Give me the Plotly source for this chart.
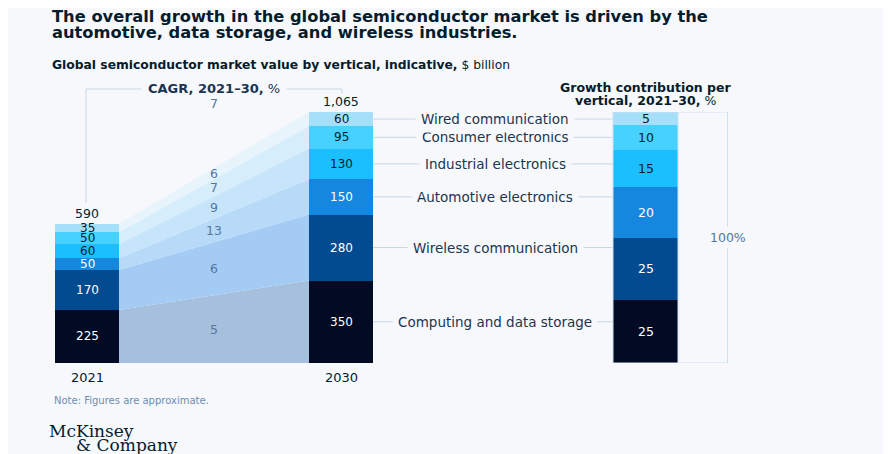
import plotly.graph_objects as go

# Data
years = ["2021", "2030"]
verticals = ["Computing and data storage", "Wireless communication", "Automotive electronics",
             "Industrial electronics", "Consumer electronics", "Wired communication"]
value_2021 = [225, 170, 50, 60, 50, 35]
value_2030 = [350, 280, 150, 130, 95, 60]
cagr = [5, 6, 13, 9, 7, 6]
total_cagr = 7
growth_share = [25, 25, 20, 15, 10, 5]

# Styles
bar_colors = ["#030A24", "#034B91", "#1587DF", "#1CBFFE", "#46D1FE", "#A5DFF9"]
area_colors = ["#A6BFDD", "#A4CBF3", "#B6DAF8", "#C6E5FA", "#D6EDFB", "#E7F4FC"]
label_colors = ["#FFFFFF", "#FFFFFF", "#FFFFFF", "#051C2C", "#051C2C", "#051C2C"]
bg = "#F6F8FC"
dark = "#051C2C"
muted = "#55779F"
rule = "#C9D7E7"
font = "DejaVu Sans"

# page is 891x454 but the html body has an 8px margin, so the figure is a bit smaller
OFF = 8
W, H = 891 - OFF, 454 - OFF
x_bar = [87, 341]        # centres of the 2021 / 2030 bars (page px on x)
x_share = 645.5          # centre of the growth contribution bar
bar_w = 64
x_mid = 214              # CAGR column
x_names = 495            # vertical names column
y_top_px, y_bot_px = 112, 363


def py(p):
    # page pixel row -> paper y
    return 1 - (p - OFF) / H


def px(p):
    return (p - OFF) / W


def cum(vals):
    out, s = [0], 0
    for v in vals:
        s += v
        out.append(s)
    return out


c21, c30, cs = cum(value_2021), cum(value_2030), cum(growth_share)
total_2021, total_2030 = c21[-1], c30[-1]

fig = go.Figure()

# flow areas between the two bars
left_edge = x_bar[0] + bar_w / 2
right_edge = x_bar[1] - bar_w / 2
for i in range(len(verticals)):
    fig.add_trace(go.Scatter(
        x=[left_edge, right_edge, right_edge, left_edge, left_edge],
        y=[c21[i], c30[i], c30[i + 1], c21[i + 1], c21[i]],
        fill="toself", fillcolor=area_colors[i], mode="lines",
        line=dict(width=0), hoverinfo="skip", showlegend=False))

# stacked bars
for i, name in enumerate(verticals):
    fig.add_trace(go.Bar(
        x=x_bar, y=[value_2021[i], value_2030[i]], width=bar_w,
        marker=dict(color=bar_colors[i], line=dict(width=0)),
        name=name, showlegend=False))
    fig.add_trace(go.Bar(
        x=[x_share], y=[growth_share[i]], width=bar_w + 1, yaxis="y2",
        marker=dict(color=bar_colors[i], line=dict(width=0)),
        name=name, showlegend=False))

ann = []
shapes = []

# segment labels
for i in range(len(verticals)):
    for xb, c, v in [(x_bar[0], c21, value_2021), (x_bar[1], c30, value_2030)]:
        ann.append(dict(x=xb, y=(c[i] + c[i + 1]) / 2, xref="x", yref="y", text=str(v[i]),
                        showarrow=False, font=dict(size=12, color=label_colors[i], family=font)))
    ann.append(dict(x=x_share, y=(cs[i] + cs[i + 1]) / 2, xref="x", yref="y2", text=str(growth_share[i]),
                    showarrow=False, font=dict(size=12.5, color=label_colors[i], family=font)))
    # CAGR per vertical, in the middle of its flow band
    mid = ((c21[i] + c21[i + 1]) / 2 + (c30[i] + c30[i + 1]) / 2) / 2
    ann.append(dict(x=x_mid, y=mid, xref="x", yref="y", text=str(cagr[i]), showarrow=False,
                    font=dict(size=12.5, color=muted, family=font)))
    # vertical name with leader line
    yc = (c30[i] + c30[i + 1]) / 2
    shapes.append(dict(type="line", xref="x", yref="y", x0=x_bar[1] + bar_w / 2, x1=x_share - bar_w / 2,
                       y0=yc, y1=yc, line=dict(color=rule, width=1), layer="below"))
    ann.append(dict(x=x_names, y=yc, xref="x", yref="y", text=verticals[i], showarrow=False,
                    bgcolor=bg, borderpad=5, font=dict(size=13.5, color="#1B3550", family=font)))

# totals and years
for xb, t in zip(x_bar, [total_2021, total_2030]):
    ann.append(dict(x=xb, y=t, xref="x", yref="y", text=f"{t:,}", showarrow=False, yanchor="bottom",
                    yshift=1, font=dict(size=12.5, color=dark, family=font)))
for xb, yr in zip(x_bar, years):
    ann.append(dict(x=xb, y=0, xref="x", yref="y", text=yr, showarrow=False, yanchor="top",
                    yshift=-5, font=dict(size=13, color=dark, family=font)))

# CAGR bracket
shapes.append(dict(type="path", xref="x", yref="paper",
                   path=f"M {x_bar[0] - 1},{py(203)} L {x_bar[0] - 1},{py(89)} L {x_bar[1] + 1},{py(89)} L {x_bar[1] + 1},{py(94)}",
                   line=dict(color=rule, width=1)))
ann.append(dict(x=x_mid, y=py(89), xref="x", yref="paper", yanchor="middle", text="<b>CAGR, 2021–30,</b> %",
                showarrow=False, bgcolor=bg, borderpad=6, font=dict(size=13, color="#1B3550", family=font)))
ann.append(dict(x=x_mid, y=py(104), xref="x", yref="paper", yanchor="middle", text=str(total_cagr),
                showarrow=False, font=dict(size=12.5, color=muted, family=font)))

# growth contribution header, outline and 100% bracket
ann.append(dict(x=x_share, y=py(88), xref="x", yref="paper", yanchor="middle",
                text="<b>Growth contribution per</b>", showarrow=False,
                font=dict(size=12.5, color=dark, family=font)))
ann.append(dict(x=x_share, y=py(100), xref="x", yref="paper", yanchor="middle",
                text="<b>vertical, 2021–30,</b> %", showarrow=False,
                font=dict(size=12.5, color=dark, family=font)))
shapes.append(dict(type="rect", xref="x", yref="y2", x0=x_share - bar_w / 2 - 0.5, x1=x_share + bar_w / 2 + 0.5,
                   y0=0, y1=cs[-1], line=dict(color="#CFE0F1", width=1)))
bx = x_share + bar_w / 2 + 50
shapes.append(dict(type="path", xref="x", yref="y2",
                   path=f"M {x_share + bar_w / 2},{cs[-1]} L {bx},{cs[-1]} L {bx},0 L {x_share + bar_w / 2},0",
                   line=dict(color="#CFE0F1", width=1)))
ann.append(dict(x=bx, y=cs[-1] / 2, xref="x", yref="y2", text="100%", showarrow=False, bgcolor=bg,
                borderpad=3, font=dict(size=12.5, color=muted, family=font)))

# titles, note, logo
top_texts = [
    (50, 16.5, "<b>The overall growth in the global semiconductor market is driven by the</b>", 16.3, dark, font),
    (50, 32, "<b>automotive, data storage, and wireless industries.</b>", 16.3, dark, font),
    (50, 65, "<b>Global semiconductor market value by vertical, indicative,</b> $ billion", 12.3, dark, font),
    (52, 400, "Note: Figures are approximate.", 10, "#6B8DB3", font),
    (47, 431, "McKinsey", 17, dark, "DejaVu Serif"),
    (74, 445, "&amp; Company", 17, dark, "DejaVu Serif"),
]
for x0, y0, txt, size, col, fam in top_texts:
    ann.append(dict(x=px(x0), y=py(y0), xref="paper", yref="paper", xanchor="left", yanchor="middle",
                    text=txt, showarrow=False, font=dict(size=size, color=col, family=fam)))

y_domain = [(H - (y_bot_px - OFF)) / H, (H - (y_top_px - OFF)) / H]
fig.update_layout(
    width=W, height=H, margin=dict(l=0, r=0, t=0, b=0),
    paper_bgcolor=bg, plot_bgcolor=bg, barmode="stack", bargap=0,
    xaxis=dict(range=[OFF, OFF + W], domain=[0, 1], visible=False, fixedrange=True),
    yaxis=dict(range=[0, total_2030], domain=y_domain, visible=False, fixedrange=True),
    yaxis2=dict(range=[0, cs[-1]], overlaying="y", visible=False, fixedrange=True),
    annotations=ann, shapes=shapes, font=dict(family=font),
)

fig.write_html("out.html")
